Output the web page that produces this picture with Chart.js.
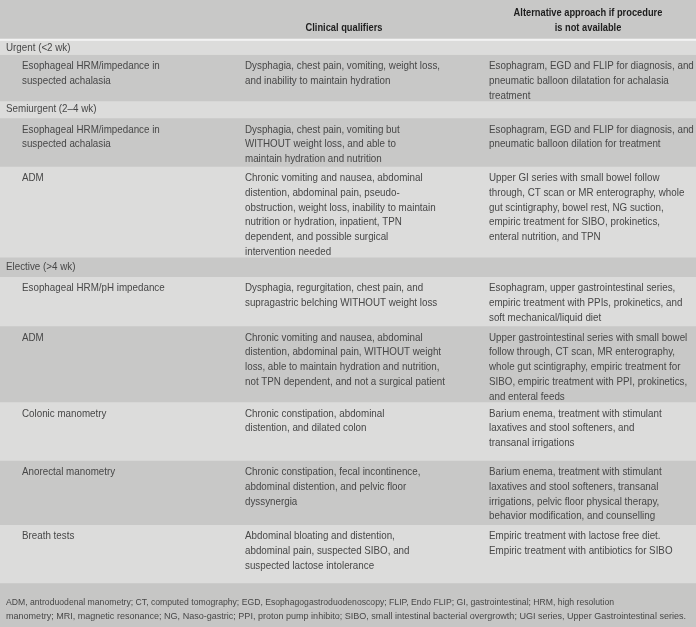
<!DOCTYPE html>
<html><head><meta charset="utf-8">
<script src="https://cdn.jsdelivr.net/npm/chart.js@4.4.1/dist/chart.umd.min.js"></script>
<style>html,body{margin:0;padding:0;background:#fff;}#wrap{width:696px;height:627px;}</style>
</head><body><div id="wrap"><canvas id="c" width="696" height="627"></canvas></div>
<script>
// ---------- data ----------
const headerCol2 = ["Clinical qualifiers"];
const headerCol3 = ["Alternative approach if procedure", "is not available"];
const rowKinds = ["section","item","section","item","item","section","item","item","item","item","item"];
const col1 = [
  ["Urgent (<2 wk)"],
  ["Esophageal HRM/impedance in", "suspected achalasia"],
  ["Semiurgent (2\u20134 wk)"],
  ["Esophageal HRM/impedance in", "suspected achalasia"],
  ["ADM"],
  ["Elective (>4 wk)"],
  ["Esophageal HRM/pH impedance"],
  ["ADM"],
  ["Colonic manometry"],
  ["Anorectal manometry"],
  ["Breath tests"]
];
const col2 = [
  [],
  ["Dysphagia, chest pain, vomiting, weight loss,", "and inability to maintain hydration"],
  [],
  ["Dysphagia, chest pain, vomiting but", "WITHOUT weight loss, and able to", "maintain hydration and nutrition"],
  ["Chronic vomiting and nausea, abdominal", "distention, abdominal pain, pseudo-", "obstruction, weight loss, inability to maintain", "nutrition or hydration, inpatient, TPN", "dependent, and possible surgical", "intervention needed"],
  [],
  ["Dysphagia, regurgitation, chest pain, and", "supragastric belching WITHOUT weight loss"],
  ["Chronic vomiting and nausea, abdominal", "distention, abdominal pain, WITHOUT weight", "loss, able to maintain hydration and nutrition,", "not TPN dependent, and not a surgical patient"],
  ["Chronic constipation, abdominal", "distention, and dilated colon"],
  ["Chronic constipation, fecal incontinence,", "abdominal distention, and pelvic floor", "dyssynergia"],
  ["Abdominal bloating and distention,", "abdominal pain, suspected SIBO, and", "suspected lactose intolerance"]
];
const col3 = [
  [],
  ["Esophagram, EGD and FLIP for diagnosis, and", "pneumatic balloon dilatation for achalasia", "treatment"],
  [],
  ["Esophagram, EGD and FLIP for diagnosis, and", "pneumatic balloon dilation for treatment"],
  ["Upper GI series with small bowel follow", "through, CT scan or MR enterography, whole", "gut scintigraphy, bowel rest, NG suction,", "empiric treatment for SIBO, prokinetics,", "enteral nutrition, and TPN"],
  [],
  ["Esophagram, upper gastrointestinal series,", "empiric treatment with PPIs, prokinetics, and", "soft mechanical/liquid diet"],
  ["Upper gastrointestinal series with small bowel", "follow through, CT scan, MR enterography,", "whole gut scintigraphy, empiric treatment for", "SIBO, empiric treatment with PPI, prokinetics,", "and enteral feeds"],
  ["Barium enema, treatment with stimulant", "laxatives and stool softeners, and", "transanal irrigations"],
  ["Barium enema, treatment with stimulant", "laxatives and stool softeners, transanal", "irrigations, pelvic floor physical therapy,", "behavior modification, and counselling"],
  ["Empiric treatment with lactose free diet.", "Empiric treatment with antibiotics for SIBO"]
];
const footnote = [
  "ADM, antroduodenal manometry; CT, computed tomography; EGD, Esophagogastroduodenoscopy; FLIP, Endo FLIP; GI, gastrointestinal; HRM, high resolution",
  "manometry; MRI, magnetic resonance; NG, Naso-gastric; PPI, proton pump inhibito; SIBO, small intestinal bacterial overgrowth; UGI series, Upper Gastrointestinal series."
];

// ---------- layout / style ----------
const TOTAL = 627;
const HEADER_H = 38.5, WHITE_H = 2, LINE_H = 14.8, PAD_TOP = 4.2, PAD_BOT = -2.2;
const SECTION_H = {0: 14, 2: 17, 5: 19.5};
const EXTRA = {3: 2, 6: 3, 8: 12, 9: 3, 10: 12};
const COLX = {section: 6, c1: 22, c2: 245, c3: 489, h2: 344, h3: 588, foot: 6};
const LIGHT = "#dcdcdb", DARK = "#c8c8c7", HEAD = "#c8c8c7", WHITE = "#f3f3f3", FOOT = "#c6c6c5";
const TEXT = "#474747", HEADTEXT = "#1e1e1e";
const FAM = '"Liberation Sans Narrow", "Liberation Sans", Arial, sans-serif';
const FOOT_W = [608, 680];

// build bands from row contents
const bands = [];
let cur = 0;
bands.push({start: cur, end: cur + HEADER_H, color: HEAD, kind: "header"}); cur += HEADER_H;
bands.push({start: cur, end: cur + WHITE_H, color: WHITE, kind: "gap"}); cur += WHITE_H;
rowKinds.forEach((k, i) => {
  const n = Math.max(col1[i].length, col2[i].length, col3[i].length);
  const h = k === "section" ? SECTION_H[i] : n * LINE_H + PAD_TOP + PAD_BOT + (EXTRA[i] || 0);
  bands.push({start: cur, end: cur + h, color: (bands.length % 2 === 0) ? LIGHT : DARK, kind: k, row: i});
  cur += h;
});
bands.push({start: cur, end: TOTAL, color: FOOT, kind: "footer"});

function drawTxt(ctx, t, x, y, font, color, sx, align) {
  ctx.save();
  ctx.font = font; ctx.fillStyle = color; ctx.textBaseline = "middle"; ctx.textAlign = align || "left";
  ctx.translate(x, y); ctx.scale(sx, 1); ctx.fillText(t, 0, 0);
  ctx.restore();
}
function fitScale(ctx, font, sample, target) {
  ctx.save(); ctx.font = font; const w = ctx.measureText(sample).width; ctx.restore();
  return target / w;
}

const tablePlugin = {
  id: "tableText",
  afterDatasetsDraw(chart) {
    const ctx = chart.ctx, ys = chart.scales.y, L = chart.chartArea.left;
    const bodyFont = "11px " + FAM, boldFont = "bold 11px " + FAM, footFont = "9.5px " + FAM;
    const sB = fitScale(ctx, bodyFont, col2[1][0], 195);
    const sH = fitScale(ctx, boldFont, headerCol2[0], 77);
    const py = v => ys.getPixelForValue(v);
    // header
    drawTxt(ctx, headerCol2[0], L + COLX.h2, py(28), boldFont, HEADTEXT, sH, "center");
    headerCol3.forEach((t, j) => drawTxt(ctx, t, L + COLX.h3, py(13 + j * 15), boldFont, HEADTEXT, sH, "center"));
    bands.forEach(b => {
      if (b.kind === "section") {
        drawTxt(ctx, col1[b.row][0], L + COLX.section, py((b.start + b.end) / 2), bodyFont, TEXT, sB);
      } else if (b.kind === "item") {
        const i = b.row;
        const lineY = j => py(b.start + PAD_TOP + (j + 0.5) * LINE_H);
        col1[i].forEach((t, j) => drawTxt(ctx, t, L + COLX.c1, lineY(j), bodyFont, TEXT, sB));
        col2[i].forEach((t, j) => drawTxt(ctx, t, L + COLX.c2, lineY(j), bodyFont, TEXT, sB));
        col3[i].forEach((t, j) => drawTxt(ctx, t, L + COLX.c3, lineY(j), bodyFont, TEXT, sB));
      } else if (b.kind === "footer") {
        footnote.forEach((t, j) => {
          const sF = fitScale(ctx, footFont, t, FOOT_W[j]);
          drawTxt(ctx, t, L + COLX.foot, py(b.start + 19 + j * 14.5), footFont, TEXT, sF);
        });
      }
    });
  }
};

new Chart(document.getElementById("c"), {
  type: "bar",
  data: {
    labels: ["table"],
    datasets: bands.map(b => ({
      data: [[b.start, b.end]],
      backgroundColor: b.color,
      borderWidth: 0,
      grouped: false,
      barPercentage: 1,
      categoryPercentage: 1
    }))
  },
  options: {
    responsive: false,
    animation: false,
    devicePixelRatio: 1,
    layout: {padding: 0},
    scales: {
      x: {display: false, offset: true},
      y: {display: false, min: 0, max: TOTAL, reverse: true}
    },
    plugins: {legend: {display: false}, tooltip: {enabled: false}}
  },
  plugins: [tablePlugin]
});
</script>
</body></html>
